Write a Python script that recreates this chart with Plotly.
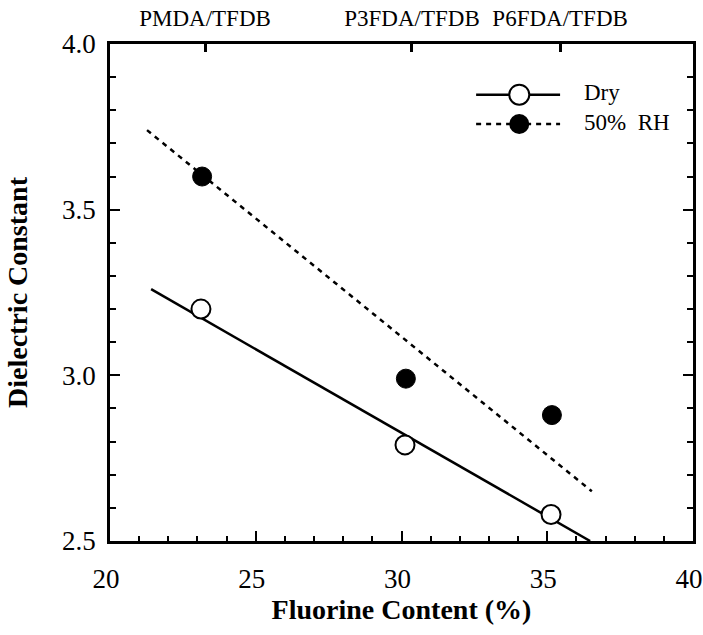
import plotly.graph_objects as go

# ---- data ----
fluorine_dry = [23.12, 30.12, 35.13]
dk_dry = [3.20, 2.79, 2.58]
fluorine_wet = [23.16, 30.15, 35.16]
dk_wet = [3.60, 2.99, 2.88]

fit_dry_x = [21.41, 36.47]
fit_dry_y = [3.26, 2.50]
fit_wet_x = [21.27, 36.53]
fit_wet_y = [3.74, 2.65]

polymer_x = [23.26, 30.36, 35.44]
polymer_names = ["PMDA/TFDB", "P3FDA/TFDB", "P6FDA/TFDB"]

x_ticks = [20, 25, 30, 35, 40]
y_ticks = [2.5, 3.0, 3.5, 4.0]
y_tick_text = ["2.5", "3.0", "3.5", "4.0"]

legend_names = ["Dry", "50%  RH"]

FONT = "Liberation Serif"

fig = go.Figure()

# fit lines
fig.add_trace(go.Scatter(x=fit_dry_x, y=fit_dry_y, mode="lines",
                         line=dict(color="black", width=2.5), showlegend=False, hoverinfo="skip"))
fig.add_trace(go.Scatter(x=fit_wet_x, y=fit_wet_y, mode="lines",
                         line=dict(color="black", width=2.5, dash="5px,5px"), showlegend=False, hoverinfo="skip"))
# points
fig.add_trace(go.Scatter(x=fluorine_dry, y=dk_dry, mode="markers",
                         marker=dict(symbol="circle", size=19, color="white", line=dict(color="black", width=2)),
                         showlegend=False))
fig.add_trace(go.Scatter(x=fluorine_wet, y=dk_wet, mode="markers",
                         marker=dict(symbol="circle", size=19, color="black", line=dict(color="black", width=1)),
                         showlegend=False))

# top axis carrier
fig.add_trace(go.Scatter(x=polymer_x, y=[None] * 3, xaxis="x2", mode="markers",
                         showlegend=False, hoverinfo="skip"))

# manual legend on helper axes (0..1 over plot area)
leg_line_x = [0.628, 0.772]
leg_marker_x = [0.702]
leg_y = [0.898, 0.839]
leg_text_x = [0.813]
fig.add_trace(go.Scatter(x=leg_line_x, y=[leg_y[0]] * 2, xaxis="x3", yaxis="y3", mode="lines",
                         line=dict(color="black", width=2.5), showlegend=False, hoverinfo="skip"))
fig.add_trace(go.Scatter(x=leg_line_x, y=[leg_y[1]] * 2, xaxis="x3", yaxis="y3", mode="lines",
                         line=dict(color="black", width=2.5, dash="5px,5px"), showlegend=False, hoverinfo="skip"))
fig.add_trace(go.Scatter(x=leg_marker_x, y=[leg_y[0]], xaxis="x3", yaxis="y3", mode="markers",
                         marker=dict(symbol="circle", size=20, color="white", line=dict(color="black", width=2)),
                         showlegend=False, hoverinfo="skip"))
fig.add_trace(go.Scatter(x=leg_marker_x, y=[leg_y[1]], xaxis="x3", yaxis="y3", mode="markers",
                         marker=dict(symbol="circle", size=20, color="black"),
                         showlegend=False, hoverinfo="skip"))
fig.add_trace(go.Scatter(x=leg_text_x * 2, y=leg_y, xaxis="x3", yaxis="y3", mode="text",
                         text=legend_names, textposition="middle right",
                         textfont=dict(family=FONT, size=23, color="black"),
                         showlegend=False, hoverinfo="skip"))

fig.update_layout(
    width=703, height=635,
    margin=dict(l=110, r=10, t=44, b=94),
    paper_bgcolor="white", plot_bgcolor="white",
    font=dict(family=FONT, color="black"),
    xaxis=dict(
        range=[20, 40], tickvals=x_ticks, ticks="inside", ticklen=10, tickwidth=2,
        tickcolor="black", showline=True, linecolor="black", linewidth=2.5, mirror=True,
        showgrid=False, zeroline=False, tickfont=dict(size=27, family=FONT),
        ticklabelstandoff=12, ticklabeloverflow="allow", ticklabelshift=-4, automargin=False,
        minor=dict(dtick=1, ticks="inside", ticklen=5, tickwidth=2, tickcolor="black"),
        title=dict(text="<b>Fluorine Content (%)</b>", font=dict(size=28, family=FONT), standoff=0),
    ),
    yaxis=dict(
        range=[2.5, 4.0], tickvals=y_ticks, ticktext=y_tick_text, ticks="inside", ticklen=10, tickwidth=2,
        tickcolor="black", showline=True, linecolor="black", linewidth=2.5, mirror="ticks",
        showgrid=False, zeroline=False, tickfont=dict(size=27, family=FONT),
        ticklabelstandoff=6, automargin=False,
        minor=dict(dtick=0.1, ticks="inside", ticklen=6, tickwidth=2, tickcolor="black"),
        title=dict(text="<b>Dielectric Constant</b>", font=dict(size=28, family=FONT), standoff=27),
    ),
    xaxis2=dict(
        overlaying="x", side="top", range=[20, 40], tickvals=polymer_x, ticktext=polymer_names,
        ticks="inside", ticklen=8, tickwidth=3, tickcolor="black", showline=False,
        showgrid=False, zeroline=False, tickfont=dict(size=23, family=FONT),
        ticklabelstandoff=12, automargin=False,
    ),
    xaxis3=dict(domain=[0, 1], range=[0, 1], visible=False, anchor="y3", overlaying="x"),
    yaxis3=dict(domain=[0, 1], range=[0, 1], visible=False, anchor="x3", overlaying="y"),
)

fig.write_html("out.html")
